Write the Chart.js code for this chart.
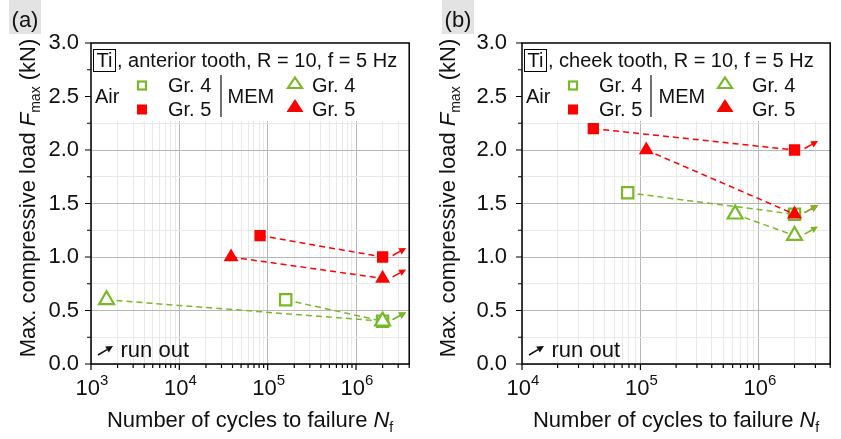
<!DOCTYPE html>
<html>
<head>
<meta charset="utf-8">
<script src="https://cdn.jsdelivr.net/npm/chart.js@4/dist/chart.umd.min.js"></script>
<style>
  body { margin: 0; background: #fff; width: 841px; height: 439px; position: relative; overflow: hidden; }
  canvas { position: absolute; top: 0; }
</style>
</head>
<body>
<canvas id="panelA" width="420" height="439" style="left:0"></canvas>
<canvas id="panelB" width="421" height="439" style="left:420px"></canvas>
<script>
const GREEN = "#79b928";
const RED = "#ff0000";
const FONT = '"Liberation Sans", Arial, sans-serif';

// (a) anterior tooth: cycles to failure N and max. load F (kN)
const airGr4A_N = [1.6e5, 2e6];
const airGr4A_F = [0.6, 0.4];
const airGr5A_N = [8.2e4, 2e6];
const airGr5A_F = [1.2, 1.0];
const memGr4A_N = [1.5e3, 2e6];
const memGr4A_F = [0.6, 0.4];
const memGr5A_N = [3.85e4, 2e6];
const memGr5A_F = [1.0, 0.8];

// (b) cheek tooth
const airGr4B_N = [7.8e4, 2e6];
const airGr4B_F = [1.6, 1.4];
const airGr5B_N = [4.0e4, 2e6];
const airGr5B_F = [2.2, 2.0];
const memGr4B_N = [6.3e5, 2e6];
const memGr4B_F = [1.4, 1.2];
const memGr5B_N = [1.12e5, 2e6];
const memGr5B_F = [2.0, 1.4];

// last specimen of every series did not fail
const runOut = [false, true];

const yTickLabels = ["0.0", "0.5", "1.0", "1.5", "2.0", "2.5", "3.0"];
const decadesA = [3, 4, 5, 6];
const decadesB = [4, 5, 6];

function series(xs, ys, color, style, filled) {
  return {
    data: xs.map((x, i) => ({ x: x, y: ys[i] })),
    runOut: runOut,
    showLine: true,
    borderColor: color,
    borderWidth: 1.5,
    borderDash: [6, 4],
    pointStyle: style,
    pointRadius: style === "triangle" ? 8.6 : 8,
    pointBackgroundColor: filled ? color : "#fff",
    pointBorderColor: color,
    pointBorderWidth: filled ? 0 : 2.2,
  };
}

function logTicks(decades, max) {
  const out = [];
  decades.forEach((d) => {
    for (let m = 1; m <= 9; m++) {
      const v = m * Math.pow(10, d);
      if (v <= max) out.push({ value: v, major: m === 1 });
    }
  });
  return out;
}

function isDecade(v) {
  const l = Math.log10(v);
  return Math.abs(l - Math.round(l)) < 1e-9;
}

function drawRuns(ctx, runs, x, y, align) {
  let total = 0;
  runs.forEach((r) => { ctx.font = r.font; total += ctx.measureText(r.text).width; });
  let cx = align === "center" ? x - total / 2 : x;
  ctx.textAlign = "left";
  ctx.textBaseline = "alphabetic";
  runs.forEach((r) => {
    ctx.font = r.font;
    ctx.fillText(r.text, cx, y + (r.dy || 0));
    cx += ctx.measureText(r.text).width;
  });
}

function arrow(ctx, x1, y1, x2, y2, color) {
  const a = Math.atan2(y2 - y1, x2 - x1);
  const hl = 7, hw = 3.5;
  ctx.save();
  ctx.strokeStyle = color;
  ctx.fillStyle = color;
  ctx.lineWidth = 1.5;
  ctx.setLineDash([]);
  ctx.beginPath();
  ctx.moveTo(x1, y1);
  ctx.lineTo(x2 - hl * Math.cos(a), y2 - hl * Math.sin(a));
  ctx.stroke();
  ctx.beginPath();
  ctx.moveTo(x2, y2);
  ctx.lineTo(x2 - hl * Math.cos(a) + hw * Math.sin(a), y2 - hl * Math.sin(a) - hw * Math.cos(a));
  ctx.lineTo(x2 - hl * Math.cos(a) - hw * Math.sin(a), y2 - hl * Math.sin(a) + hw * Math.cos(a));
  ctx.closePath();
  ctx.fill();
  ctx.restore();
}

function square(ctx, x, y, color, filled) {
  ctx.save();
  if (filled) {
    ctx.fillStyle = color;
    ctx.fillRect(x - 5, y - 5, 10, 10);
  } else {
    ctx.strokeStyle = color;
    ctx.lineWidth = 2.2;
    ctx.strokeRect(x - 4, y - 4, 8, 8);
  }
  ctx.restore();
}

function triangle(ctx, x, y, color, filled) {
  ctx.save();
  ctx.beginPath();
  if (filled) {
    ctx.moveTo(x, y - 7); ctx.lineTo(x + 8.5, y + 6); ctx.lineTo(x - 8.5, y + 6);
    ctx.closePath();
    ctx.fillStyle = color;
    ctx.fill();
  } else {
    ctx.moveTo(x, y - 5.5); ctx.lineTo(x + 7, y + 5); ctx.lineTo(x - 7, y + 5);
    ctx.closePath();
    ctx.strokeStyle = color;
    ctx.lineWidth = 2.2;
    ctx.stroke();
  }
  ctx.restore();
}

const panelPlugin = {
  id: "panelDecor",
  beforeDatasetsDraw(chart) {
    const { ctx, chartArea: ca } = chart;
    ctx.save();
    ctx.fillStyle = "#fff";
    ctx.fillRect(ca.left, ca.top, ca.right - ca.left, 78);
    ctx.restore();
  },
  afterDatasetsDraw(chart) {
    const { ctx, chartArea: ca, scales } = chart;
    const p = chart.options.plugins.panelDecor;
    const L = ca.left, T = ca.top;
    ctx.save();

    // run-out arrows at the unbroken specimens
    chart.data.datasets.forEach((ds, di) => {
      const meta = chart.getDatasetMeta(di);
      ds.runOut.forEach((flag, i) => {
        if (!flag) return;
        const pt = meta.data[i];
        arrow(ctx, pt.x + 10, pt.y - 1.5, pt.x + 23.5, pt.y - 9, ds.borderColor);
      });
    });

    // frame
    ctx.strokeStyle = "#000";
    ctx.lineWidth = 1.5;
    ctx.strokeRect(ca.left, ca.top, ca.right - ca.left, ca.bottom - ca.top);

    // tick marks
    ctx.lineWidth = 1.2;
    ctx.beginPath();
    scales.x.ticks.forEach((t) => {
      const x = scales.x.getPixelForValue(t.value);
      const len = isDecade(t.value) ? 6 : 4;
      ctx.moveTo(x, ca.bottom); ctx.lineTo(x, ca.bottom + len);
    });
    scales.y.ticks.forEach((t) => {
      const y = scales.y.getPixelForValue(t.value);
      const len = Math.abs(t.value * 2 - Math.round(t.value * 2)) < 1e-9 ? 6 : 4;
      ctx.moveTo(ca.left, y); ctx.lineTo(ca.left - len, y);
    });
    ctx.stroke();

    // x tick labels 10^n
    ctx.fillStyle = "#111";
    p.decades.forEach((d) => {
      const x = scales.x.getPixelForValue(Math.pow(10, d));
      drawRuns(ctx, [
        { text: "10", font: "22px " + FONT },
        { text: String(d), font: "15px " + FONT, dy: -10 },
      ], x + 1, 395, "center");
    });

    // axis titles
    drawRuns(ctx, [
      { text: "Number of cycles to failure ", font: "22px " + FONT },
      { text: "N", font: "italic 22px " + FONT },
      { text: "f", font: "14px " + FONT, dy: 5 },
    ], (ca.left + ca.right) / 2, 427, "center");

    ctx.save();
    ctx.translate(35, 198);
    ctx.rotate(-Math.PI / 2);
    drawRuns(ctx, [
      { text: "Max. compressive load ", font: "22px " + FONT },
      { text: "F", font: "italic 22px " + FONT },
      { text: "max", font: "14px " + FONT, dy: 5 },
      { text: " (kN)", font: "22px " + FONT },
    ], 0, 0, "center");
    ctx.restore();

    // panel letter
    ctx.fillStyle = "#e3e3e3";
    ctx.fillRect(p.tagX, 0, 32, 34);
    ctx.fillStyle = "#111";
    ctx.font = "22px " + FONT;
    ctx.textAlign = "center";
    ctx.fillText(p.tag, p.tagX + 16, 27);

    // legend block
    ctx.strokeStyle = "#000";
    ctx.lineWidth = 1;
    ctx.strokeRect(L + 2.5, T + 6.5, 22, 22);
    ctx.font = "20px " + FONT;
    ctx.textAlign = "center";
    ctx.fillText("Ti", L + 13.5, T + 24);
    ctx.textAlign = "left";
    ctx.fillText(p.title, L + 26, T + 24);
    ctx.fillText("Air", L + 4, T + 60);
    square(ctx, L + 51, T + 42.5, GREEN, false);
    square(ctx, L + 51, T + 66.5, RED, true);
    ctx.fillText("Gr. 4", L + 77, T + 49);
    ctx.fillText("Gr. 5", L + 77, T + 73);
    ctx.strokeStyle = "#111";
    ctx.lineWidth = 1.2;
    ctx.beginPath();
    ctx.moveTo(p.sepX, T + 32); ctx.lineTo(p.sepX, T + 74);
    ctx.stroke();
    ctx.fillText("MEM", L + 136.5, T + 60);
    triangle(ctx, L + p.triX, T + 40, GREEN, false);
    triangle(ctx, L + p.triX, T + 63, RED, true);
    ctx.fillText("Gr. 4", L + p.memTextX, T + 49);
    ctx.fillText("Gr. 5", L + p.memTextX, T + 73);

    // run-out key
    arrow(ctx, L + 7, 355, L + 22, 346, "#111");
    ctx.font = "22px " + FONT;
    ctx.fillText("run out", L + 29.5, 357);

    ctx.restore();
  },
};

function makePanel(id, cfg) {
  const canvas = document.getElementById(id);
  return new Chart(canvas.getContext("2d"), {
    type: "scatter",
    data: { datasets: cfg.datasets },
    options: {
      responsive: false,
      animation: false,
      layout: { padding: { left: 0, top: 43, right: canvas.width - cfg.chartRight, bottom: 0 } },
      plugins: {
        legend: { display: false },
        tooltip: { enabled: false },
        panelDecor: cfg.decor,
      },
      scales: {
        x: {
          type: "logarithmic",
          min: cfg.xMin,
          max: cfg.xMax,
          border: { display: false },
          grid: {
            drawTicks: false,
            color: (c) => (c.tick && isDecade(c.tick.value) ? "#b8b8b8" : "#e9e9e9"),
            lineWidth: 1,
          },
          ticks: { display: false },
          afterBuildTicks: (s) => { s.ticks = logTicks(cfg.decor.decades, cfg.xMax); },
          afterFit: (s) => { s.height = 75; },
        },
        y: {
          min: 0,
          max: 3,
          border: { display: false },
          grid: {
            drawTicks: false,
            color: (c) => (c.tick && Math.abs(c.tick.value * 2 - Math.round(c.tick.value * 2)) < 1e-9 ? "#b8b8b8" : "#e9e9e9"),
            lineWidth: 1,
          },
          ticks: {
            stepSize: 0.25,
            autoSkip: false,
            padding: cfg.yLabelGap,
            color: "#111",
            font: { family: FONT, size: 22 },
            callback: (v, i) => (i % 2 === 0 ? yTickLabels[i / 2] : ""),
          },
          afterFit: (s) => { s.width = cfg.chartLeft; },
        },
      },
    },
    plugins: [panelPlugin],
  });
}

makePanel("panelA", {
  chartLeft: 91,
  chartRight: 410,
  xMin: 1e3,
  xMax: 4e6,
  yLabelGap: 12,
  datasets: [
    series(memGr5A_N, memGr5A_F, RED, "triangle", true),
    series(airGr5A_N, airGr5A_F, RED, "rect", true),
    series(memGr4A_N, memGr4A_F, GREEN, "triangle", false),
    series(airGr4A_N, airGr4A_F, GREEN, "rect", false),
  ],
  decor: {
    tag: "(a)", tagX: 9, decades: decadesA,
    title: ", anterior tooth, R = 10, f = 5 Hz",
    sepX: 91 + 130, triX: 204, memTextX: 221,
  },
});

makePanel("panelB", {
  chartLeft: 102,
  chartRight: 420,
  xMin: 1e4,
  xMax: 4e6,
  yLabelGap: 15,
  datasets: [
    series(memGr5B_N, memGr5B_F, RED, "triangle", true),
    series(airGr5B_N, airGr5B_F, RED, "rect", true),
    series(memGr4B_N, memGr4B_F, GREEN, "triangle", false),
    series(airGr4B_N, airGr4B_F, GREEN, "rect", false),
  ],
  decor: {
    tag: "(b)", tagX: 22, decades: decadesB,
    title: ", cheek tooth, R = 10, f = 5 Hz",
    sepX: 102 + 129, triX: 203, memTextX: 230,
  },
});
</script>
</body>
</html>
